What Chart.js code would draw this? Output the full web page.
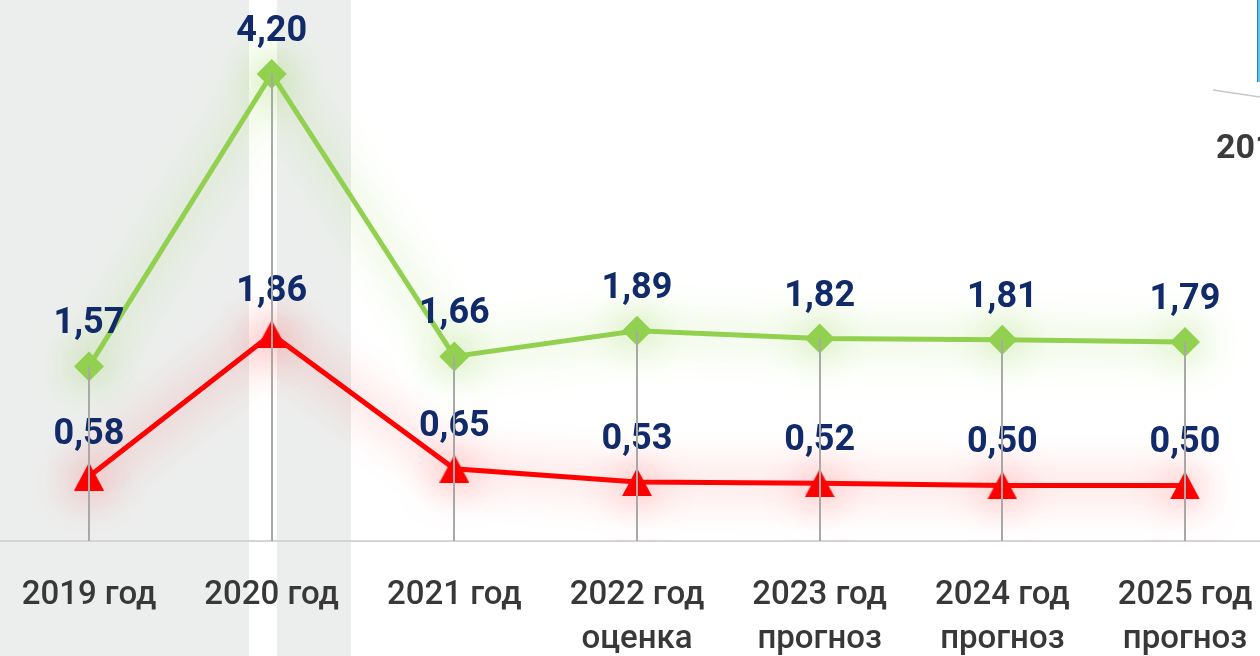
<!DOCTYPE html>
<html lang="ru">
<head>
<meta charset="utf-8">
<script src="https://cdn.jsdelivr.net/npm/chart.js@4.4.1/dist/chart.umd.min.js"></script>
<style>
  html, body { margin: 0; padding: 0; background: #fff; overflow: hidden; }
  .chart-wrap { position: relative; width: 1260px; height: 656px; }
</style>
</head>
<body>
<div class="chart-wrap">
  <canvas id="chart" role="img" aria-label="Динамика показателей 2019–2025"></canvas>
</div>
<script>
const years = [
  ['2019 год'],
  ['2020 год'],
  ['2021 год'],
  ['2022 год', 'оценка'],
  ['2023 год', 'прогноз'],
  ['2024 год', 'прогноз'],
  ['2025 год', 'прогноз'],
];
const greenValues = [1.57, 4.20, 1.66, 1.89, 1.82, 1.81, 1.79];
const redValues = [0.58, 1.86, 0.65, 0.53, 0.52, 0.50, 0.50];
// shaded columns behind the first years, in category-index units
const bands = [[-0.6, 0.876], [1.029, 1.434]];

const GREEN = '#92d050';
const RED = '#ff0000';
const NAVY = '#112a6a';

function triangleMarker(w, h, color) {
  const c = document.createElement('canvas');
  c.width = w; c.height = h;
  const g = c.getContext('2d');
  g.fillStyle = color;
  g.beginPath();
  g.moveTo(w / 2, 0);
  g.lineTo(w, h);
  g.lineTo(0, h);
  g.closePath();
  g.fill();
  return c;
}

const fmt = v => v.toFixed(2).replace('.', ',');

const bandsPlugin = {
  id: 'bands',
  beforeDraw(chart) {
    const { ctx, scales: { x }, chartArea } = chart;
    ctx.save();
    ctx.fillStyle = '#eceeed';
    bands.forEach(([a, b]) => {
      const x0 = Math.max(0, x.getPixelForValue(a));
      const x1 = x.getPixelForValue(b);
      ctx.fillRect(x0, 0, x1 - x0, chart.height);
    });
    // baseline across the whole width
    ctx.strokeStyle = '#d4d4d4';
    ctx.lineWidth = 2;
    ctx.beginPath();
    ctx.moveTo(0, chartArea.bottom);
    ctx.lineTo(chart.width, chartArea.bottom);
    ctx.stroke();
    ctx.restore();
  },
};

const glowPlugin = {
  id: 'glow',
  beforeDatasetDraw(chart, args) {
    const ds = chart.data.datasets[args.index];
    chart.ctx.save();
    chart.ctx.shadowColor = ds.glowColor;
    chart.ctx.shadowBlur = 42;
  },
  afterDatasetDraw(chart) {
    chart.ctx.restore();
  },
};

const labelsPlugin = {
  id: 'valueLabels',
  afterDatasetsDraw(chart) {
    const { ctx, chartArea } = chart;
    ctx.save();
    ctx.font = 'bold 36px Roboto';
    ctx.fillStyle = NAVY;
    ctx.textAlign = 'center';
    ctx.textBaseline = 'middle';
    chart.data.datasets.forEach((ds, di) => {
      chart.getDatasetMeta(di).data.forEach((pt, i) => {
        ctx.fillText(fmt(ds.data[i]), pt.x, pt.y - 42);
      });
    });
    // drop lines from the upper series down to the axis
    const top = chart.getDatasetMeta(0).data;
    ctx.strokeStyle = '#a8a8a8';
    ctx.lineWidth = 2;
    top.forEach(pt => {
      ctx.beginPath();
      ctx.moveTo(Math.round(pt.x), pt.y);
      ctx.lineTo(Math.round(pt.x), chartArea.bottom);
      ctx.stroke();
    });
    ctx.restore();
  },
  afterDraw(chart) {
    // edge of the neighbouring slide element, top right
    const ctx = chart.ctx;
    ctx.save();
    ctx.fillStyle = '#5cc8f2';
    ctx.fillRect(1257, 0, 4, 82);
    ctx.strokeStyle = '#1f7fc4';
    ctx.lineWidth = 1;
    ctx.beginPath();
    ctx.moveTo(1257.5, 0);
    ctx.lineTo(1257.5, 82);
    ctx.stroke();
    ctx.strokeStyle = '#c8c8c8';
    ctx.lineWidth = 1.5;
    ctx.beginPath();
    ctx.moveTo(1213, 90);
    ctx.lineTo(1260, 97);
    ctx.stroke();
    ctx.fillStyle = '#3b3b3b';
    ctx.font = 'bold 34px Roboto';
    ctx.textBaseline = 'alphabetic';
    ctx.fillText('2019', 1216, 158);
    ctx.restore();
  },
};

async function init() {
  try {
    await Promise.all([
      document.fonts.load('bold 36px Roboto'),
      document.fonts.load('500 33px Roboto'),
    ]);
  } catch (e) {}

  const ctx = document.getElementById('chart').getContext('2d');
  new Chart(ctx, {
    type: 'line',
    data: {
      labels: years,
      datasets: [
        {
          data: greenValues,
          borderColor: GREEN,
          backgroundColor: GREEN,
          borderWidth: 5,
          pointStyle: 'rectRot',
          pointRadius: 15,
          pointBorderWidth: 0,
          clip: false,
          glowColor: 'rgba(146,208,80,1)',
        },
        {
          data: redValues,
          borderColor: RED,
          backgroundColor: RED,
          borderWidth: 5,
          pointStyle: triangleMarker(30, 28, RED),
          pointRadius: 15,
          clip: false,
          glowColor: 'rgba(255,60,60,0.85)',
        },
      ],
    },
    options: {
      responsive: true,
      maintainAspectRatio: false,
      animation: false,
      events: [],
      layout: { autoPadding: false, padding: { left: 89, right: 75, top: 0, bottom: 0 } },
      plugins: { legend: { display: false }, tooltip: { enabled: false } },
      scales: {
        x: {
          offset: false,
          grid: { display: false, drawTicks: false },
          border: { display: false },
          ticks: {
            color: '#383838',
            font: { family: 'Roboto', size: 33, weight: '500', lineHeight: 1.33 },
            padding: 33,
            maxRotation: 0,
            autoSkip: false,
          },
          afterFit: s => {
            s.height = 115;
            s.paddingLeft = 0;
            s.paddingRight = 0;
          },
        },
        y: {
          display: false,
          min: 0,
          max: 4.865,
        },
      },
    },
    plugins: [bandsPlugin, glowPlugin, labelsPlugin],
  });
}
init();
</script>
</body>
</html>
